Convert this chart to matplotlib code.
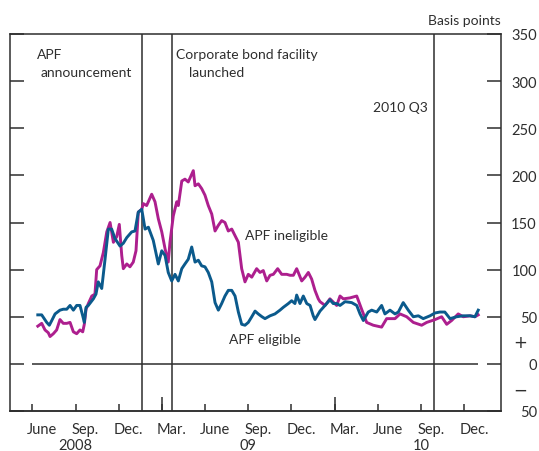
import matplotlib.pyplot as plt
from matplotlib.ticker import FixedLocator, FixedFormatter

plt.rcParams['font.family'] = ['Lato', 'DejaVu Sans']

BLUE = '#0B5A8C'
MAGENTA = '#AD1F8E'
INK = '#2E2E2E'

# months since 1 June 2008
elig_m = [0.38, 0.65, 1.00, 1.18, 1.35, 1.58, 1.92, 2.15, 2.39, 2.62, 2.85, 3.08, 3.31, 3.50,
          3.61, 3.73, 3.89, 4.24, 4.42, 4.58, 4.82, 5.05, 5.28, 5.51, 5.74, 6.09, 6.32, 6.56,
          6.90, 7.13, 7.36, 7.60, 7.83, 8.06, 8.40, 8.75, 8.99, 9.22, 9.44, 9.68, 9.91, 10.14,
          10.38, 10.60, 10.83, 11.07, 11.30, 11.53, 11.76, 11.99, 12.22, 12.46, 12.69, 12.92,
          13.15, 13.38, 13.61, 13.85, 14.08, 14.31, 14.54, 14.77, 15.00, 15.24, 15.47, 15.69,
          15.95, 16.16, 16.51, 16.85, 17.20, 17.43, 17.78, 18.01, 18.24, 18.36, 18.59, 18.82,
          19.06, 19.29, 19.51, 19.63, 19.98, 20.33, 20.67, 20.90, 21.14, 21.37, 21.72, 22.18,
          22.53, 22.76, 22.99, 23.33, 23.57, 23.92, 24.26, 24.49, 24.84, 25.19, 25.42, 25.76,
          26.11, 26.46, 26.81, 27.15, 27.62, 27.97, 28.31, 28.65, 29.01, 29.47, 29.93, 30.40,
          30.74, 30.97]
elig_v = [52, 52, 44, 41, 46, 53, 57, 58, 58, 62, 57, 62, 62, 51,
          44, 60, 62, 69, 74, 87, 80, 111, 143, 143, 133, 125, 128, 134,
          140, 141, 161, 164, 143, 145, 131, 106, 120, 115, 97, 88, 95, 88,
          101, 106, 111, 124, 108, 110, 104, 103, 97, 87, 65, 57,
          64, 72, 78, 78, 72, 55, 42, 41, 44, 50, 56, 53,
          50, 48, 51, 53, 57, 60, 64, 67, 64, 73, 64, 72,
          64, 62, 51, 47, 56, 62, 68, 64, 64, 62, 66, 65,
          62, 53, 46, 55, 57, 55, 62, 53, 57, 53, 55, 65,
          57, 50, 51, 48, 51, 54, 55, 55, 48, 50, 51, 51,
          50, 57]

inel_m = [0.38, 0.65, 0.88, 1.11, 1.23, 1.46, 1.69, 1.92, 2.15, 2.39, 2.62, 2.85, 3.08, 3.31,
          3.50, 3.61, 3.73, 3.89, 4.13, 4.35, 4.47, 4.70, 4.93, 5.17, 5.40, 5.63, 5.86, 6.04,
          6.21, 6.32, 6.56, 6.78, 7.01, 7.20, 7.36, 7.60, 7.71, 7.94, 8.29, 8.52, 8.75, 8.99,
          9.22, 9.44, 9.56, 9.79, 10.03, 10.14, 10.38, 10.60, 10.83, 11.18, 11.30, 11.53, 11.76,
          11.99, 12.22, 12.46, 12.69, 12.92, 13.15, 13.38, 13.61, 13.85, 14.08, 14.31, 14.54,
          14.77, 15.00, 15.24, 15.58, 15.81, 16.04, 16.28, 16.51, 16.74, 17.04, 17.32, 17.67,
          17.90, 18.13, 18.36, 18.47, 18.71, 18.94, 19.17, 19.40, 19.63, 19.86, 19.98, 20.33,
          20.67, 21.14, 21.37, 21.60, 22.06, 22.53, 22.87, 23.22, 23.68, 24.26, 24.61, 25.19,
          25.54, 26.00, 26.46, 27.04, 27.39, 27.97, 28.43, 28.78, 29.12, 29.58, 29.93, 30.40,
          30.74, 30.97]
inel_v = [40, 43, 36, 33, 29, 32, 36, 47, 43, 43, 44, 34, 32, 36,
          34, 42, 58, 64, 72, 74, 100, 104, 118, 140, 150, 129, 135, 148,
          115, 101, 106, 103, 108, 120, 161, 164, 170, 168, 180, 172, 154, 140,
          122, 108, 129, 157, 172, 168, 194, 196, 193, 205, 189, 191, 186,
          179, 168, 159, 141, 147, 152, 150, 141, 143, 136, 129, 101,
          87, 95, 92, 101, 97, 99, 88, 94, 95, 101, 95, 95,
          94, 94, 101, 97, 88, 92, 97, 90, 78, 69, 66, 62,
          69, 62, 72, 69, 70, 72, 58, 44, 41, 39, 48, 48,
          53, 50, 44, 41, 44, 47, 50, 42, 46, 53, 50, 51,
          50, 52]

events_m = [7.62, 9.72, 27.92]

quarter_ticks = [0, 3, 6, 9, 12, 15, 18, 21, 24, 27, 30]
year_ticks = [9, 21]
month_names = ['June', 'Sep.', 'Dec.', 'Mar.', 'June', 'Sep.', 'Dec.', 'Mar.', 'June', 'Sep.', 'Dec.']
years = ['2008', '09', '10']
year_pos = [3, 15, 27]

y_ticks = [-50, 0, 50, 100, 150, 200, 250, 300, 350]
y_labels = ['50', '0', '50', '100', '150', '200', '250', '300', '350']

fig = plt.figure(figsize=(5.39, 4.52), dpi=100)
ax = fig.add_axes([10.3 / 539, 40 / 452, 490.4 / 539, 377 / 452])

ax.set_xlim(-1.53, 32.53)
ax.set_ylim(-50, 350)

ax.hlines(0, 0, 30.97, color=INK, lw=1.1, zorder=1)
for m in events_m:
    ax.axvline(m, color=INK, lw=1.1, zorder=1)

ax.plot(inel_m, inel_v, color=MAGENTA, lw=2.1, solid_joinstyle='round', zorder=3)
ax.plot(elig_m, elig_v, color=BLUE, lw=2.1, solid_joinstyle='round', zorder=3)

for sp in ax.spines.values():
    sp.set_linewidth(1.1)
    sp.set_color(INK)

# y axis: ticks both sides, labels right
ax.yaxis.set_major_locator(FixedLocator(y_ticks))
ax.yaxis.set_major_formatter(FixedFormatter(y_labels))
ax.yaxis.set_minor_locator(FixedLocator([-25, 25]))
ax.yaxis.set_minor_formatter(FixedFormatter(['\u2212', '+']))
ax.tick_params(axis='y', which='major', direction='in', length=10, width=1.1, color=INK,
               left=True, right=True, labelleft=False, labelright=True,
               labelsize=10.5, labelcolor=INK, pad=26)
ax.tick_params(axis='y', which='minor', length=0, left=False, right=True,
               labelleft=False, labelright=True, labelcolor=INK, pad=14)
plt.setp(ax.yaxis.get_majorticklabels(), ha='right')
plt.setp(ax.yaxis.get_minorticklabels(), ha='center', fontsize=12, family='DejaVu Sans')

# x axis: quarter ticks, month labels just after each tick
ax.xaxis.set_major_locator(FixedLocator(quarter_ticks))
ax.xaxis.set_major_formatter(FixedFormatter([''] * len(quarter_ticks)))
ax.xaxis.set_minor_locator(FixedLocator([q + 0.7 for q in quarter_ticks]))
ax.xaxis.set_minor_formatter(FixedFormatter(month_names))
ax.tick_params(axis='x', which='major', direction='in', length=5, width=1.1, color=INK)
ax.tick_params(axis='x', which='minor', length=0, labelsize=10.5, labelcolor=INK, pad=8)

sec = ax.secondary_xaxis('bottom')
sec.set_xticks(year_ticks)
sec.set_xticklabels(['', ''])
sec.tick_params(direction='in', length=10, width=1.1, color=INK)
sec.spines['bottom'].set_linewidth(1.1)
sec.spines['bottom'].set_color(INK)

for yr, p in zip(years, year_pos):
    ax.text(p, -0.09, yr, transform=ax.get_xaxis_transform(), ha='center', va='center',
            fontsize=10.5, color=INK)

ax.text(1.0, 1.037, 'Basis points', transform=ax.transAxes, ha='right', va='center',
        fontsize=10, color=INK)

ax.text(0.33, 329, 'APF', ha='left', va='center', fontsize=10, color=INK)
ax.text(0.60, 310, 'announcement', ha='left', va='center', fontsize=10, color=INK)
ax.text(9.98, 329, 'Corporate bond facility', ha='left', va='center', fontsize=10, color=INK)
ax.text(10.88, 310, 'launched', ha='left', va='center', fontsize=10, color=INK)
ax.text(27.48, 272.6, '2010 Q3', ha='right', va='center', fontsize=10, color=INK)
ax.text(14.77, 136.8, 'APF ineligible', ha='left', va='center', fontsize=10, color=INK)
ax.text(13.66, 26.5, 'APF eligible', ha='left', va='center', fontsize=10, color=INK)

fig.savefig('out.png', dpi=100)
